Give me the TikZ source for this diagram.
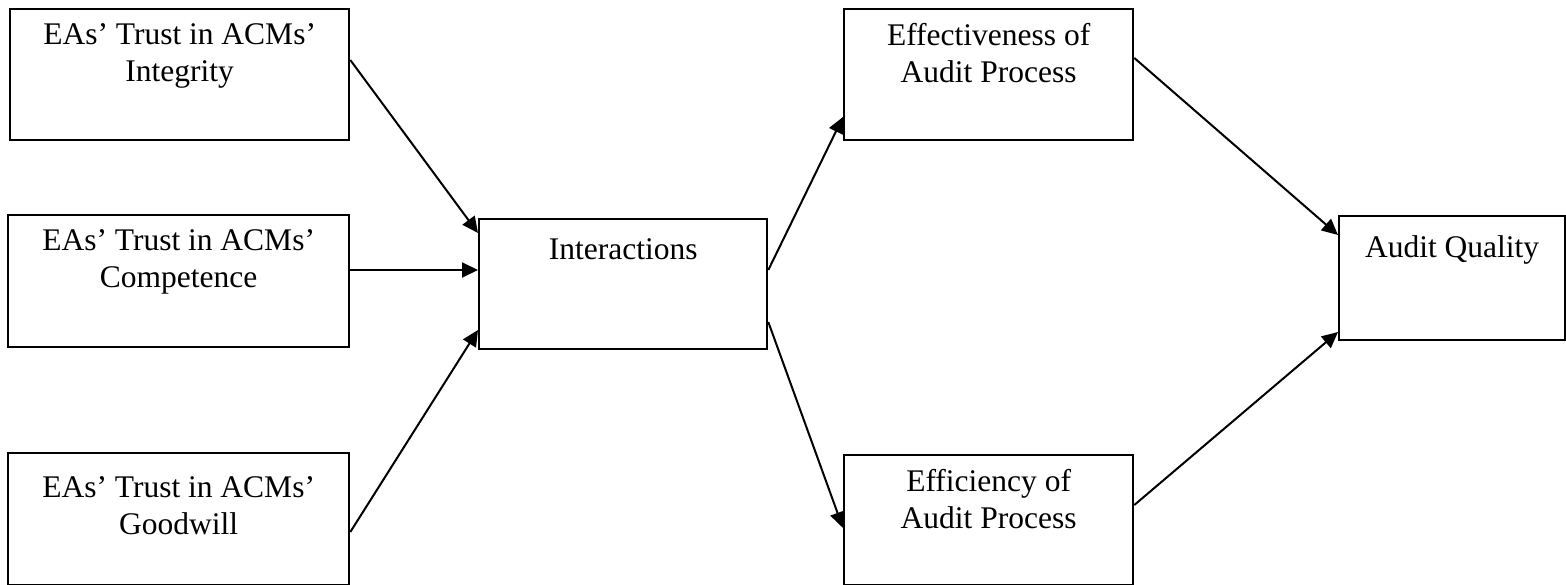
\documentclass[tikz,border=0pt]{standalone}
\usepackage{fontspec}
\setmainfont{Liberation Serif}
\usetikzlibrary{arrows.meta}
\tikzset{
  box/.style={draw, line width=2.3pt, rectangle, anchor=north west, inner sep=0pt},
  boxtext/.style={anchor=north, inner sep=0pt, align=center,
    font=\fontsize{31.5}{37}\selectfont, execute at begin node={\strut}, yshift=-15pt},
  link/.style={line width=2pt, -{Triangle[length=16pt,width=15pt]}},
}
\begin{document}
\begin{tikzpicture}[x=1pt, y=-1pt]
\useasboundingbox (0,0) rectangle (1566,585);

% input constructs
\node[box, minimum width=339pt, minimum height=131pt,
  label={[boxtext]north:EAs’ Trust in ACMs’\\Integrity}] (integ) at (9,8) {};
\node[box, minimum width=341pt, minimum height=132pt,
  label={[boxtext]north:EAs’ Trust in ACMs’\\Competence}] (comp) at (7,214) {};
\node[box, minimum width=341pt, minimum height=132pt,
  label={[boxtext, yshift=-9pt]north:EAs’ Trust in ACMs’\\Goodwill}] (good) at (7,452) {};

% mediator
\node[box, minimum width=288pt, minimum height=130pt,
  label={[boxtext]north:Interactions}] (inter) at (478,218) {};

% process outcomes
\node[box, minimum width=289pt, minimum height=131pt,
  label={[boxtext]north:Effectiveness of\\Audit Process}] (effect) at (843,8) {};
\node[box, minimum width=289pt, minimum height=130pt,
  label={[boxtext]north:Efficiency of\\Audit Process}] (effic) at (843,454) {};

% final outcome
\node[box, minimum width=226pt, minimum height=124pt,
  label={[boxtext, yshift=-1pt]north:Audit Quality}] (aq) at (1338,215) {};

% paths
\draw[link] ([yshift=-52pt]integ.north east) -- ([yshift=-15pt]inter.north west);
\draw[link] ([yshift=-56pt]comp.north east) -- ([yshift=-52pt]inter.north west);
\draw[link] ([yshift=-80pt]good.north east) -- ([yshift=-112pt]inter.north west);
\draw[link] ([yshift=-52pt]inter.north east) -- ([yshift=-109pt]effect.north west);
\draw[link] ([yshift=-104pt]inter.north east) -- ([yshift=-74pt]effic.north west);
\draw[link] ([yshift=-50pt]effect.north east) -- ([yshift=-20pt]aq.north west);
\draw[link] ([yshift=-51pt]effic.north east) -- ([yshift=-117pt]aq.north west);
\end{tikzpicture}
\end{document}
